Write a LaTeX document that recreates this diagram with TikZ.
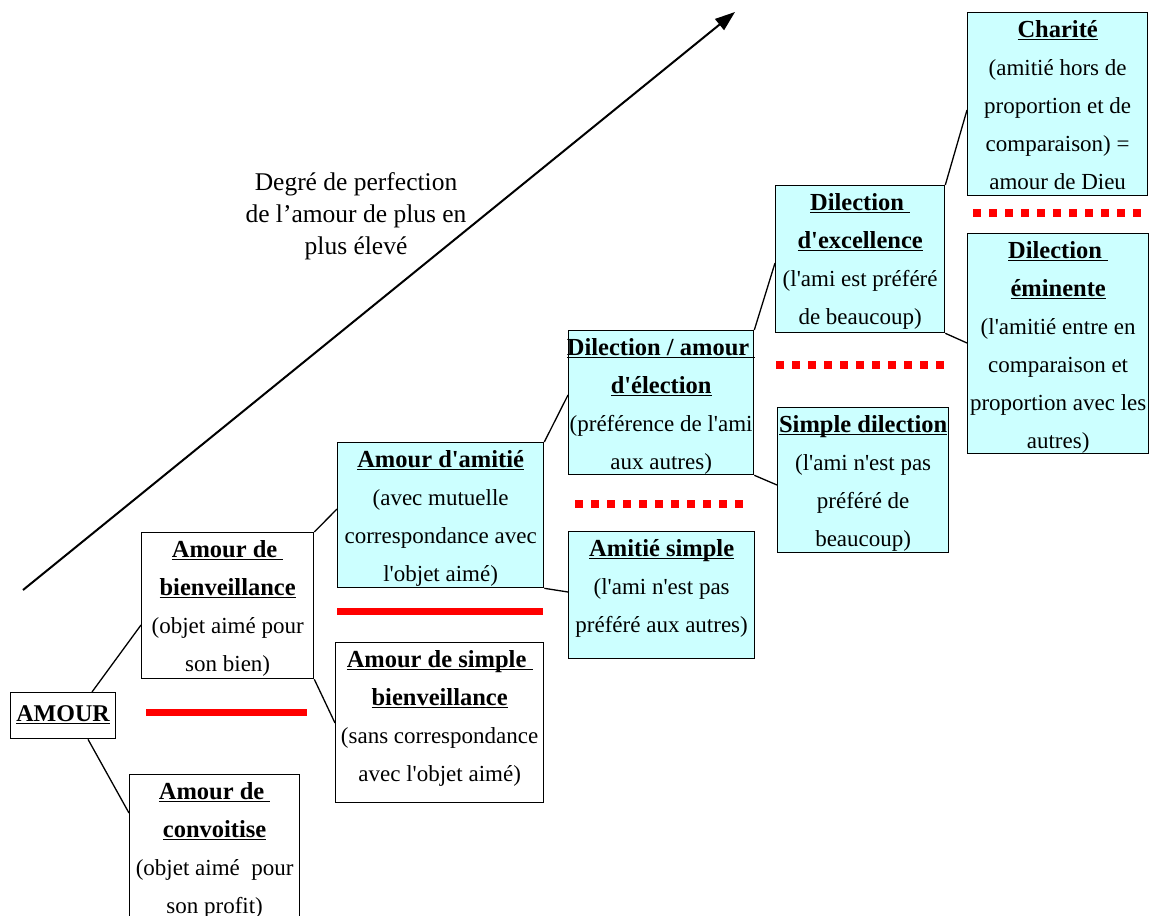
\documentclass[tikz,border=0pt]{standalone}
\usepackage{fontspec}
\newfontfamily\tnr{Liberation Serif}
\usetikzlibrary{arrows.meta}
\definecolor{boxcyan}{HTML}{CCFFFF}
\definecolor{lred}{HTML}{FF0000}
\newcommand\ttl[1]{{\fontsize{24.5}{38}\selectfont\underline{\smash{\textbf{#1}}}}}
\newcommand\Ln[1]{\noindent\makebox[\linewidth]{#1}\par}
\newcommand\Fst[1]{\noindent\makebox[\linewidth]{\rule{0pt}{25pt}#1}\par}
\newcommand\bxt[3]{\parbox[c][#2][t]{#1}{\tnr\fontsize{23}{38}\selectfont #3}}
\tikzset{
  bx/.style={draw=black, line width=1.3pt, inner sep=0pt, anchor=north west, fill=white},
  cy/.style={bx, fill=boxcyan},
  conn/.style={draw=black, line width=1.3pt},
  redline/.style={draw=lred, line width=7pt},
  reddots/.style={draw=lred, line width=8pt, dash pattern=on 8pt off 8pt},
}
\begin{document}
\begin{tikzpicture}[x=1pt,y=-1pt]
\useasboundingbox (0,0) rectangle (1150,915);
\clip (0,0) rectangle (1150,915);
\fill[white] (0,0) rectangle (1150,915);

% arrow and its label
\coordinate (ar0) at (23,590);
\coordinate (ar1) at (735,12);
\draw[line width=2pt, -{Triangle[length=20pt,width=14pt]}] (ar0) -- (ar1);
\node[font={\tnr\fontsize{25.5}{32}\selectfont}, align=center, inner sep=0pt] (lbl) at (356,216)
  {Degré de perfection\\de l’amour de plus en\\plus élevé};

% boxes
\node[bx] (amour) at (10,692) {\parbox[c][46pt][t]{105pt}{\tnr\noindent\makebox[\linewidth]{\rule{0pt}{29pt}\fontsize{24}{30}\selectfont\underline{\smash{\textbf{AMOUR}}}}}};

\node[bx] (bienv) at (141,532) {\bxt{172pt}{146pt}{%
  \Fst{\ttl{Amour de\ }}\Ln{\ttl{bienveillance}}\Ln{(objet aimé pour}\Ln{son bien)}}};

\node[bx] (conv) at (129,774) {\bxt{170pt}{176pt}{%
  \Fst{\ttl{Amour de\ }}\Ln{\ttl{convoitise}}\Ln{(objet aimé\ \ pour}\Ln{son profit)}}};

\node[cy] (amitie) at (337,442) {\bxt{206pt}{145pt}{%
  \Fst{\ttl{Amour d'amitié}}\Ln{(avec mutuelle}\Ln{correspondance avec}\Ln{l'objet aimé)}}};

\node[bx] (simple) at (335,642) {\bxt{208pt}{160pt}{%
  \Fst{\ttl{Amour de simple\ }}\Ln{\ttl{bienveillance}}\Ln{(sans correspondance}\Ln{avec l'objet aimé)}}};

\node[cy] (elec) at (568,330) {\bxt{185pt}{144pt}{%
  \Fst{\ttl{Dilection / amour\ }}\Ln{\ttl{d'élection}}\Ln{(préférence de l'ami}\Ln{aux autres)}}};

\node[cy] (asimple) at (568,531) {\bxt{186pt}{127pt}{%
  \Fst{\ttl{Amitié simple}}\Ln{(l'ami n'est pas}\Ln{préféré aux autres)}}};

\node[cy] (excel) at (775,185) {\bxt{169pt}{147pt}{%
  \Fst{\ttl{Dilection\ }}\Ln{\ttl{d'excellence}}\Ln{(l'ami est préféré}\Ln{de beaucoup)}}};

\node[cy] (sdil) at (777,407) {\bxt{171pt}{145pt}{%
  \Fst{\ttl{Simple dilection}}\Ln{(l'ami n'est pas}\Ln{préféré de}\Ln{beaucoup)}}};

\node[cy] (charite) at (967,12) {\bxt{180pt}{183pt}{%
  \Fst{\ttl{Charité}}\Ln{(amitié hors de}\Ln{proportion et de}\Ln{comparaison) =}\Ln{amour de Dieu}}};

\node[cy] (emin) at (967,233) {\bxt{181pt}{220pt}{%
  \Fst{\ttl{Dilection\ }}\Ln{\ttl{éminente}}\Ln{(l'amitié entre en}\Ln{comparaison et}\Ln{proportion avec les}\Ln{autres)}}};

% red separators
\draw[redline] (146,712.5) -- (307,712.5);
\draw[redline] (337,611.5) -- (543,611.5);
\draw[reddots] (575,503.5) -- (744,503.5);
\draw[reddots] (776,364.5) -- (945,364.5);
\draw[reddots] (973,212.5) -- (1142,212.5);

% connectors
\draw[conn] ([xshift=82pt]amour.north west) -- ([yshift=-93pt]bienv.north west);
\draw[conn] ([xshift=78pt]amour.south west) -- ([yshift=-39pt]conv.north west);
\draw[conn] (bienv.north east) -- ([yshift=-67pt]amitie.north west);
\draw[conn] (bienv.south east) -- ([yshift=-81pt]simple.north west);
\draw[conn] (amitie.north east) -- ([yshift=-65pt]elec.north west);
\draw[conn] (amitie.south east) -- ([yshift=-61pt]asimple.north west);
\draw[conn] (elec.north east) -- ([yshift=-78pt]excel.north west);
\draw[conn] (elec.south east) -- ([yshift=-78pt]sdil.north west);
\draw[conn] (excel.north east) -- ([yshift=-98pt]charite.north west);
\draw[conn] (excel.south east) -- ([yshift=-110pt]emin.north west);
\end{tikzpicture}
\end{document}
